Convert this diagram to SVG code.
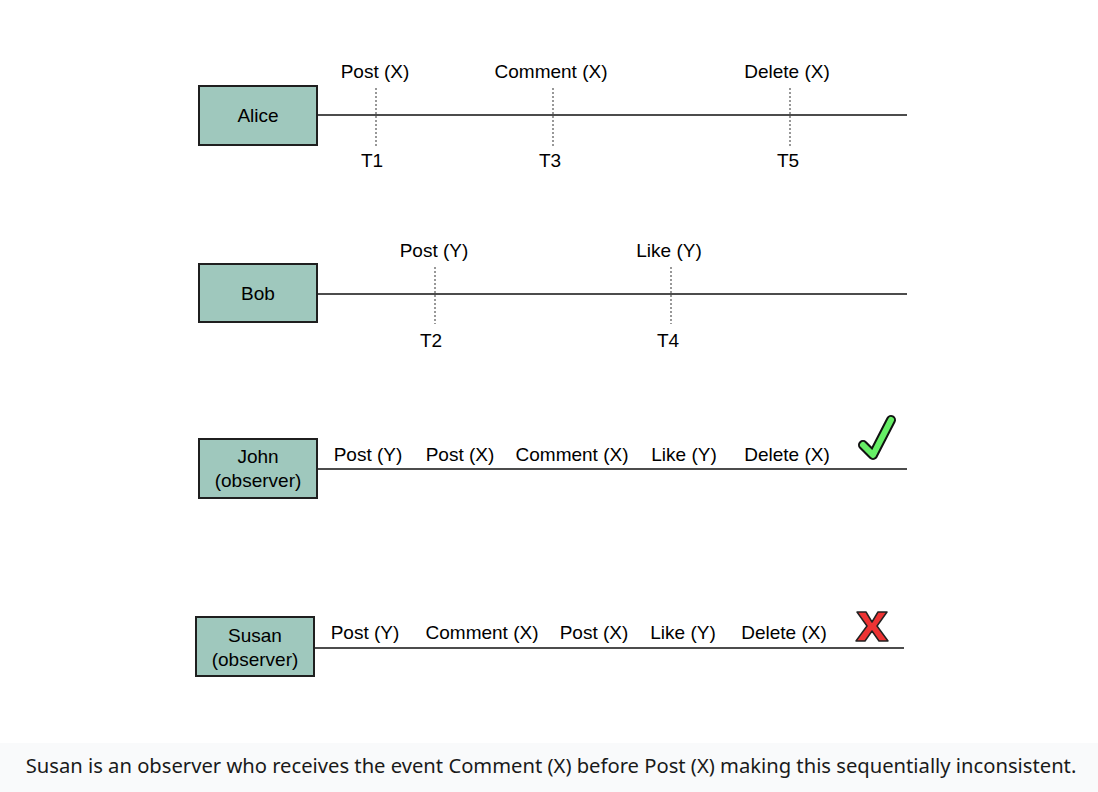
<svg xmlns="http://www.w3.org/2000/svg" width="1098" height="792" viewBox="0 0 1098 792">
<style>
.box{fill:#9fc8bd;stroke:#1f1f1f;stroke-width:2}
.t{font-family:"Liberation Sans",Arial,sans-serif;font-size:19px;fill:#000;text-anchor:middle}
.ln{stroke:#111;stroke-width:1.6;fill:none}
.dot{stroke:#777;stroke-width:1.5;stroke-dasharray:2 2;fill:none}
.cap{font-family:"Noto Sans","Open Sans",sans-serif;font-size:20.2px;fill:#1a1a1a;text-anchor:middle}
</style>
<rect width="1098" height="792" fill="#fff"/>
<rect x="0" y="743" width="1098" height="49" fill="#f9fafb"/>
<g id="connectors">
<line class="ln" x1="317" y1="115" x2="907" y2="115"/>
<line class="ln" x1="317" y1="294" x2="907" y2="294"/>
<line class="ln" x1="317" y1="469" x2="907" y2="469"/>
<line class="ln" x1="314" y1="648" x2="904" y2="648"/>
<line class="dot" x1="376" y1="88" x2="376" y2="146"/>
<line class="dot" x1="553" y1="88" x2="553" y2="146"/>
<line class="dot" x1="790" y1="88" x2="790" y2="146"/>
<line class="dot" x1="435" y1="267" x2="435" y2="324"/>
<line class="dot" x1="671" y1="267" x2="671" y2="324"/>
</g>
<g id="alice">
<rect class="box" x="199" y="86" width="118" height="59"/>
<text class="t" x="258" y="122">Alice</text>
<text class="t" x="375" y="78">Post (X)</text>
<text class="t" x="551" y="78">Comment (X)</text>
<text class="t" x="787" y="78">Delete (X)</text>
<text class="t" x="372" y="167">T1</text>
<text class="t" x="550" y="167">T3</text>
<text class="t" x="788" y="167">T5</text>
</g>
<g id="bob">
<rect class="box" x="199" y="264" width="118" height="58"/>
<text class="t" x="258" y="300">Bob</text>
<text class="t" x="434" y="257">Post (Y)</text>
<text class="t" x="669" y="257">Like (Y)</text>
<text class="t" x="431" y="347">T2</text>
<text class="t" x="668" y="347">T4</text>
</g>
<g id="john">
<rect class="box" x="199" y="439" width="118" height="59"/>
<text class="t" x="258" y="463">John</text>
<text class="t" x="258" y="487">(observer)</text>
<text class="t" x="368" y="461">Post (Y)</text>
<text class="t" x="460" y="461">Post (X)</text>
<text class="t" x="572" y="461">Comment (X)</text>
<text class="t" x="684" y="461">Like (Y)</text>
<text class="t" x="787" y="461">Delete (X)</text>
<path d="M863,445 L873,455 L891,420" fill="none" stroke="#111" stroke-width="10" stroke-linecap="round" stroke-linejoin="round"/>
<path d="M863,445 L873,455 L891,420" fill="none" stroke="#66ee66" stroke-width="6" stroke-linecap="round" stroke-linejoin="round"/>
</g>
<g id="susan">
<rect class="box" x="196" y="617" width="118" height="59"/>
<text class="t" x="255" y="642">Susan</text>
<text class="t" x="255" y="666">(observer)</text>
<text class="t" x="365" y="639">Post (Y)</text>
<text class="t" x="482" y="639">Comment (X)</text>
<text class="t" x="594" y="639">Post (X)</text>
<text class="t" x="683" y="639">Like (Y)</text>
<text class="t" x="784" y="639">Delete (X)</text>
<path d="M857,612 L866,612 L872,622 L878,612 L887,612 L877,626 L888,641 L879,641 L872,631 L865,641 L856,641 L867,626 Z" fill="#ee3333" stroke="#222" stroke-width="1.5" stroke-linejoin="round"/>
</g>
<text class="cap" x="551" y="773">Susan is an observer who receives the event Comment (X) before Post (X) making this sequentially inconsistent.</text>
</svg>
